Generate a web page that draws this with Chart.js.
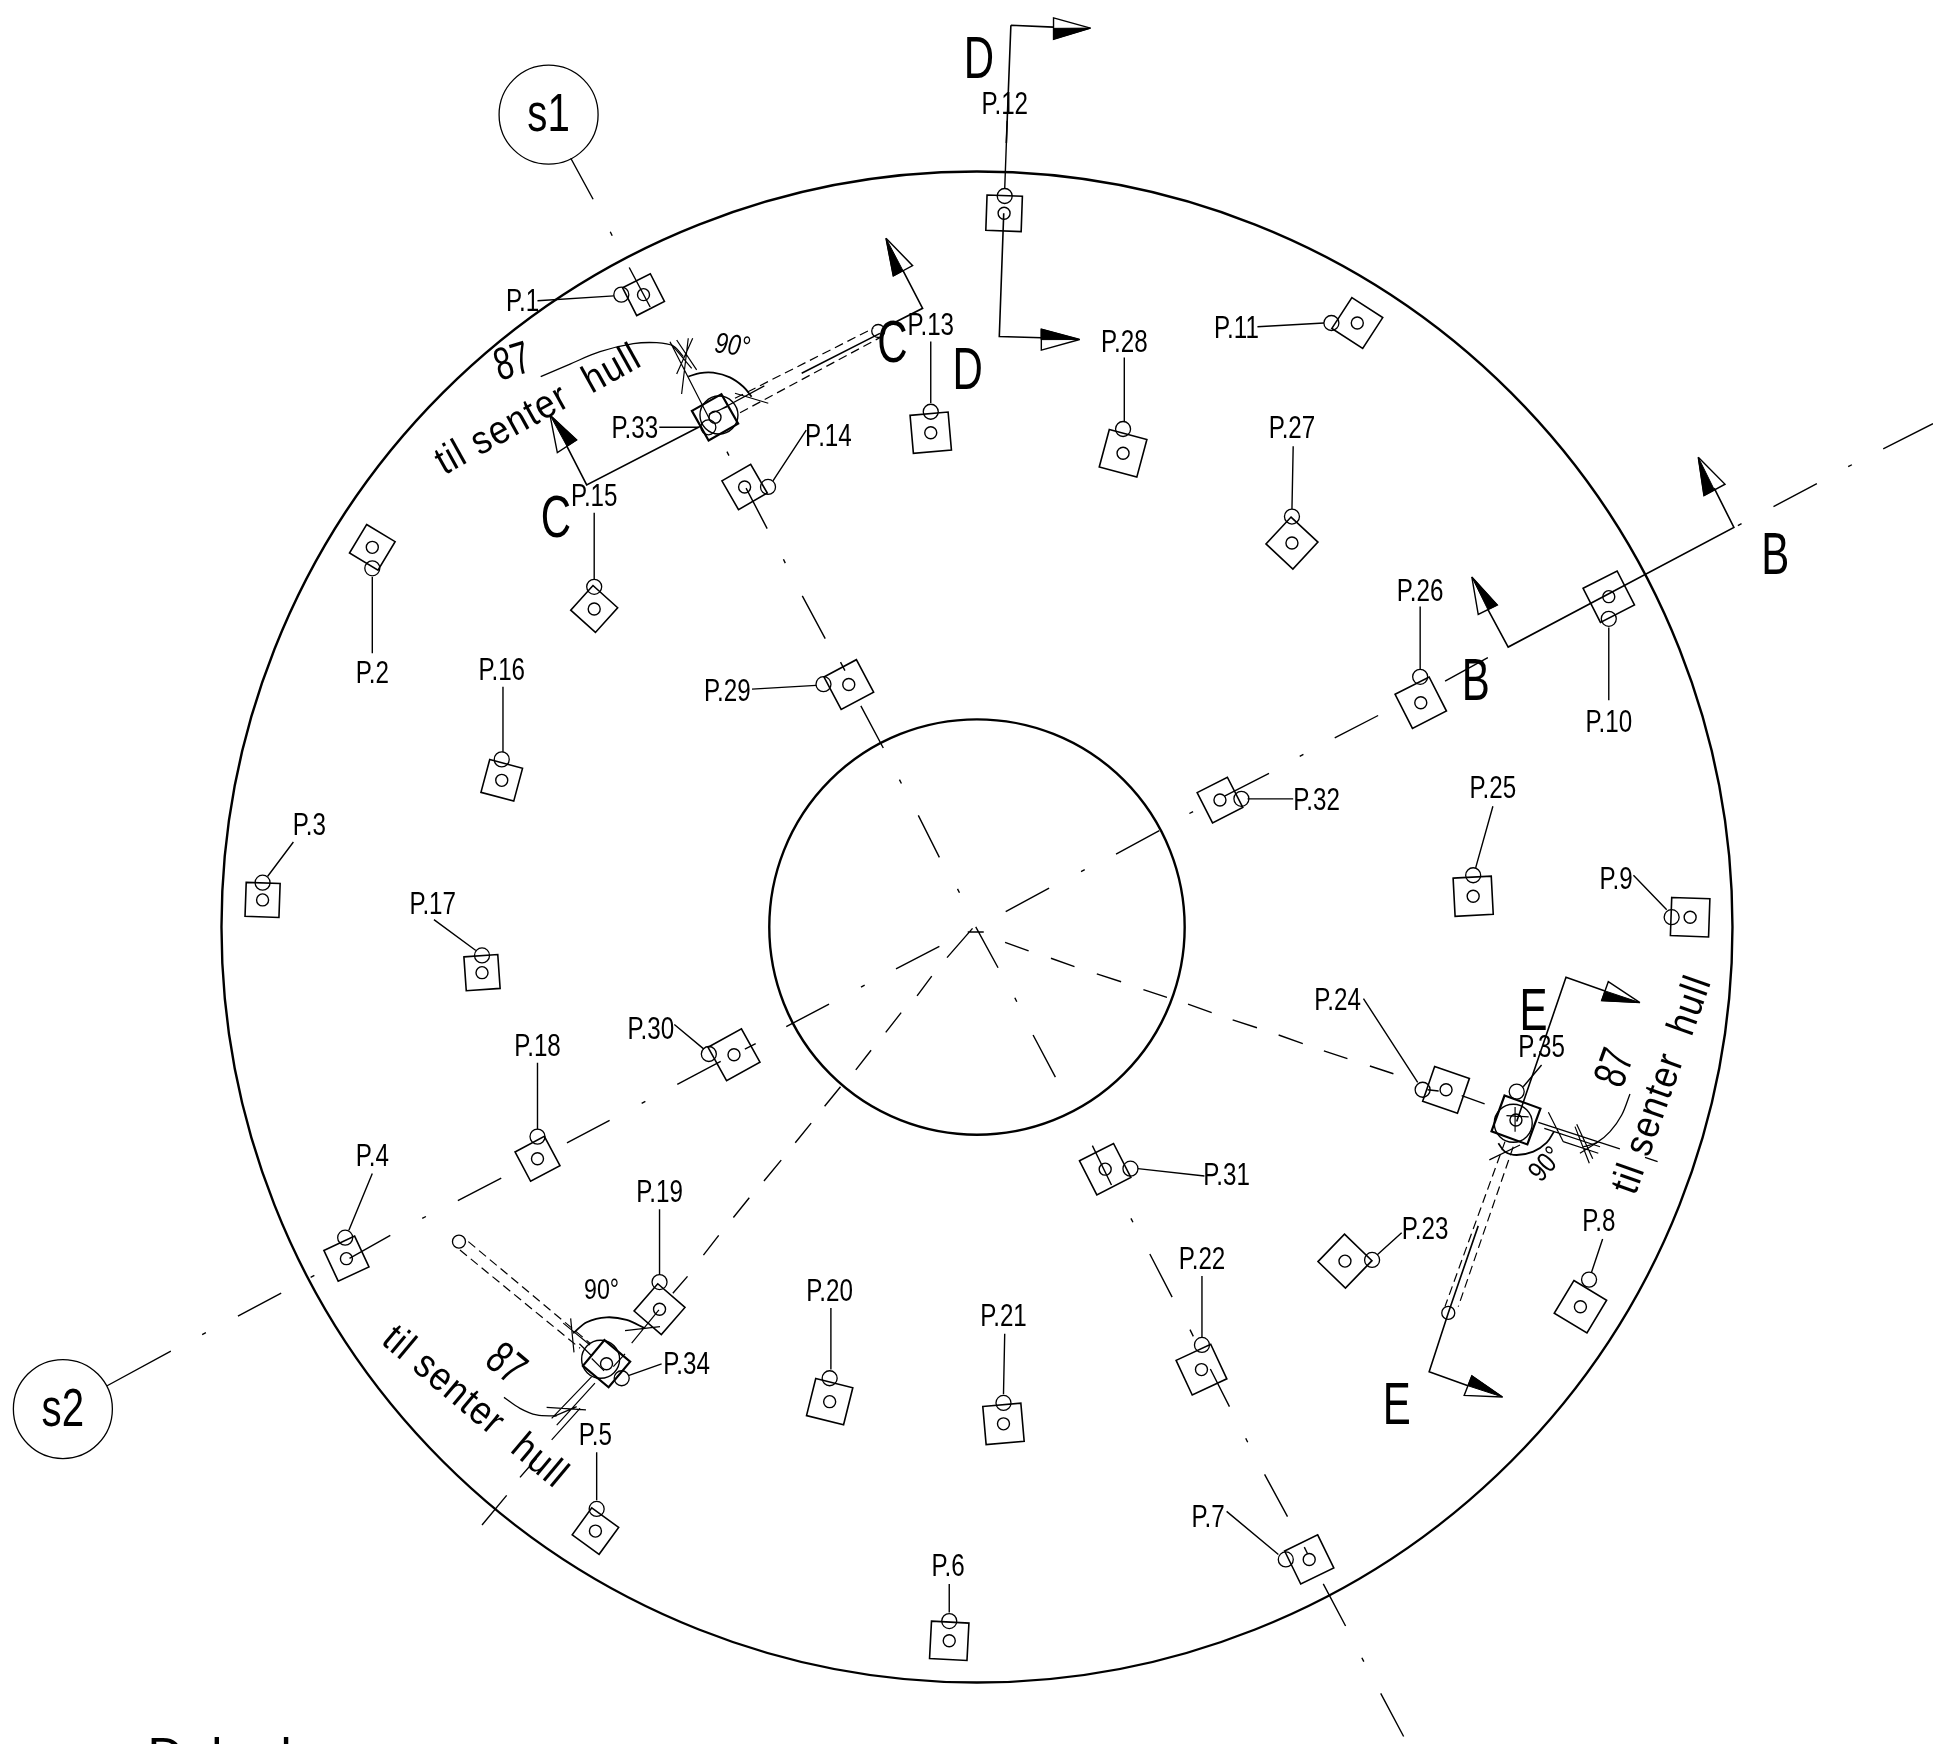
<!DOCTYPE html>
<html><head><meta charset="utf-8">
<style>html,body{margin:0;padding:0;background:#fff}canvas{display:block}</style>
<script src="https://cdn.jsdelivr.net/npm/chart.js@4"></script>
</head><body><canvas id="c" width="1933" height="1744"></canvas>
<script>
const plateLabels=["P.1","P.2","P.3","P.4","P.5","P.6","P.7","P.8","P.9","P.10","P.11","P.12","P.13","P.14","P.15","P.16","P.17","P.18","P.19","P.20","P.21","P.22","P.23","P.24","P.25","P.26","P.27","P.28","P.29","P.30","P.31","P.32","P.33","P.34","P.35"];
const plateX=[522,302,213,281,483,770,1062,1282,1371,1305,1101,814.5,755,604,482,407,391,436,535,673,814,974.6,1091,1173,1195,1152.5,1048,911,688.5,595.4,896.5,989.6,580,492,1229.7];
const plateY=[239,444,730,1021,1242,1331,1265,1060,744,484,262,173,351,395,494,633,789,940,1062,1137,1155,1111,1023,884,727,570,440.5,367.7,555.3,855.6,948.4,649,338.5,1106.2,908.5];
const plateAngle=[-27,31,2,-25,36,3,-26,31,2,-27,33,2,-5,-30,42,15,-4,-28,41,14,-5,-25,44,19,-3,-27,43,15,-28,-29,-27,-27,-29.5,40,20];
const plateRadius=[22,23.5,24,24,23.5,26.5,26,27,27,27,26,25,27,23.5,23.5,24,24,23.5,25.5,27,27,27,27,26,27,27,26,27.5,26,27,27,24,24,23.7,27];
const leaderX=[504,302,213,280,484,770,1043,1289,1356,1305,1080,815,755,623,482,407,391,436,535,673,814,975,1113,1154,1195,1152,1048,911,668,575,917,1007,574.6,504.3,1230.3];
const leaderY=[239,461,716,1004,1224,1315,1265,1038,744,502,262,159,334,395,476,616,775,922,1040,1118,1138,1091,1022,884,710,549,419,348,555,855,948,648,346.6,1118,885.5];
const labelX=[424,302,251,302,483,769,980,1297,1311,1305,1003,815,755,672,482,407,351,436,535,673,814,975,1156,1085,1211,1152,1048,912,590,528,995,1068,515,557,1250.5];
const labelY=[245.5,547.5,670.5,938.5,1165.5,1271.5,1231.5,991.5,714.5,586.5,267.5,85.5,264.5,354.5,403.5,544.5,734.5,849.5,968.5,1048.5,1068.5,1022.5,998.5,812.5,640.5,480.5,348.5,278.5,561.5,835.5,954.5,650.5,348,1107.9,850.5];
const leaderLines=[[436,244,498,240],[302,468,302,530],[238,683,217,711],[302,952,283,998],[484,1178,484,1217],[770,1285,770,1308],[995,1226,1037,1261],[1300,1005,1291,1032],[1325,710,1352,738],[1305,509,1305,568],[1020,265,1074,262],[817,98,815,153],[755,277,755,327],[654,349,627,390],[482,416,482,470],[408,557,408,610],[352,746,386,771],[436,862,436,916],[535,981,535,1034],[674,1061,674,1111],[815,1082,814,1131],[975,1035,975,1085],[1137,1000,1117,1018],[1106,810,1150,878],[1211,654,1197,704],[1152,492,1152,543],[1049,362,1048,413],[912,290,912,342],[610,559,662,556],[547,831,571,851],[923,948,977,954],[1012,648,1049,648],[534.8,346.6,566.4,346.6],[509.7,1115.9,536.7,1106.4],[1235.6,881.5,1250.5,863.9]];
const centerLines=[
[463,128.4,481.1,161.6],[495,188,496.6,191.2],[510.4,217,527.4,249],[589.7,366.4,591.3,369.6],[605.2,396,622.3,428.8],[635.5,453.6,637,456.8],[650.8,483.4,669.4,518],[681.8,537.1,685.4,544],[698.3,572.6,716.5,606.8],[729.6,632.4,731.2,635.6],[744.9,661.4,762,695.5],[776.7,721,778.3,724.2],
[791.5,751.8,809.6,785],[823.2,809.4,824.8,812.6],[838,839.6,856.1,873.8],[886.1,929.3,901.6,961.2],[917.4,988.3,919,991.5],[932.7,1017.2,950.8,1052.2],[965.3,1078.6,968,1084],[981.8,1110.5,997.3,1141],[1010.5,1166.7,1012.1,1169.9],[1025.8,1196,1044.4,1230.2],[1058,1255,1060.5,1260],[1073.4,1284.8,1091.5,1319],[1104.7,1344.7,1106.3,1347.9],[1120,1373.6,1138.6,1408.6],
[86.9,1124.1,138.6,1096],[164,1082.6,167,1081],[193,1067.7,228.1,1049],[252,1036.2,255,1034.6],[283.5,1020.8,316.6,1002.1],[342.5,988.4,345.5,986.8],[371.4,973.9,406.6,955.7],[459.9,927,494.5,908.8],[520.5,895.1,523.5,893.5],[549.4,879.7,584.6,861],[604.2,851,613,846.5],[637.8,832.8,672.5,814.6],[698.4,800.8,701.4,799.2],[726.8,785.9,762,767.7],
[815.8,739.5,851,720.4],[876.9,707.1,879.9,705.5],[905.3,692.8,940.4,673.7],[964.8,659.9,967.8,658.3],[993.7,645.5,1029.4,627.3],[1054.3,613.5,1057.3,611.9],[1082.7,598.6,1117.9,580.4],[1172.2,552.5,1206.9,533.5],[1409.7,426.4,1412.7,424.8],[1438.6,411,1473.8,392.4],[1499.2,378.6,1502.2,377],[1527.6,364.2,1568,343.7],
[1185.7,888.7,1204.3,895.5],[1158,884,1167,885],
[815.3,764.5,834.4,771.4],[852.5,777.3,871.6,784.1],[889.7,790,909.4,796.4],[927.5,802.8,946.6,809.1],[963.7,814.6,982.9,821.4],[999.9,827.3,1019.6,833.7],[1037.2,839.6,1056.8,846.5],[1073.9,852.4,1093,858.8],[1111.2,864.7,1130.3,871],
[545.8,1049,557.7,1035.4],[570.6,1018.1,583,1002.1],[594.9,987.6,607.8,971.6],[619.7,958,633.7,941.1],[645.1,927,658,911.1],[668.9,897.4,681.8,881.5],[694.2,867.9,706.6,851.9],[718.5,837.4,731,821.4],[743.9,807.8,755.8,791.8],[768.2,776.8,788.9,753.1],
[785,756,798,756],
[391,1237,411,1213],[421.8,1198.4,435.3,1182.9],[1334.4,938.8,1344.6,942.3]];
const sectionLines=[
[820,20.5,816.3,116],[820,20.5,854.6,22],[814.2,173,810.6,273,845,274],
[1390.5,396,1406.5,427.9,1223.4,524.9,1206.9,494.4],
[732.5,219.6,748.4,250.1,716.5,266.3],[650.3,302.8,713.8,270.4],[459.9,362,475.9,393.4,567.8,346],
[1301.9,803.8,1270.3,792.8,1230.3,909.8],[1199.1,994.4,1174.8,1065,1159.3,1112.8,1190.8,1124.1]];
const constructionLines=[
[575.9,340.7,543.5,277.2],[548.9,275.8,565.1,300.1],[543.5,278,561.1,298.8],[561.9,274.4,548.9,303.4],[558.3,274.4,552.9,319.6],[596.2,319,623.2,327.1],[583,333,620,313],
[1208.1,940.9,1233,928.8],[1247.8,910.4,1314,932],[1252.7,915.3,1297.9,930.2],[1268.1,926.1,1296.5,935.5],[1256,902.3,1268.1,926.1],[1277.6,913.9,1289.2,943.6],[1296.5,926.1,1281.6,935.5],[1279,912,1292,940],
[534.5,1062.6,512.4,1089.6],[507,1098.3,497.5,1108.6],[507,1079.4,535.4,1076.1],[456.9,1073.3,478.6,1091],[462.9,1069.4,465.6,1097],[480,1116.7,447.5,1150.5],[482.6,1122,451.6,1156],[470.5,1142.4,447.5,1168],[443.4,1141.6,475.3,1143.7],[448.8,1149.1,467.8,1141],
[1222,905,1240,906],[1229,898,1229,918],[575,336,590,330],[480,1102,490,1112],[470,1090,480,1100]];
const hiddenEdgeLines=[
[596.2,323.1,708.4,266.3],[600.3,334.8,715.2,273.1],
[1220.8,926.1,1172.1,1059.9],[1227.5,930.2,1182.9,1059.9],
[379.9,1007.2,478.6,1089.6],[373.1,1014,470.5,1093.7]];
const arcs90=[
[558.3,305.5,567.8,302.6,578.6,302.3,592.1,306.1,603,313.7,609.7,321.8],
[1260.5,918,1254.6,926.9,1243.8,934.2,1230.3,936.9,1220.8,934.2,1215.4,927.4],
[465,1081.5,475.9,1072.6,492.1,1068.6,508.3,1070.7,523.2,1077.5]];
const arcs87=[
[438.6,305.5,462.4,295.3,486.7,285.3,513.7,278.8,532.7,278,546.2,280.7,554.3,289.3],
[1322.2,887.4,1315.5,904.5,1306,918,1295.2,926.9,1284.3,930.2],
[408.8,1133.5,421.8,1142.4,435.3,1147.8,451.6,1148.6]];
const arrowOutlines=[
[884.6,22.8,854.6,14.5,854.6,31.8],[875.8,275.4,844.7,267,844.7,284],
[1377.6,371,1399.3,392.8,1382.2,402],[1193.9,468,1214.6,490.7,1199.1,498.4],
[718.7,193.3,740.3,215.5,724.6,223.9],[446.1,336.6,467.8,356.9,452.1,367.2],
[1330.3,813.3,1304.6,796.3,1299.2,811.7],[1218.8,1133.2,1193.9,1116,1187.7,1131.9]];
const arrowFills=[
[884.6,22.8,854.6,23,854.6,31.8],[875.8,275.4,844.7,267,844.7,275.5],
[1377.6,371,1390.7,397.5,1382.2,402],[1193.9,468,1214.6,490.7,1206.9,494.4],
[718.7,193.3,732.5,219.6,724.6,223.9],[446.1,336.6,467.8,356.9,459.9,362],
[1330.3,813.3,1301.9,803.8,1299.2,811.7],[1218.8,1133.2,1193.9,1116,1190.8,1124.1]];
const discX=[792.5,792.5], discY=[752,752], discRadius=[755.5,207.7];
const bubbleX=[445,51], bubbleY=[94.5,1144.5], bubbleText=["s1","s2"];
const bigCircleX=[583.2,487.2,1227.5], bigCircleY=[336.7,1102.6,911.2];
const endHoleX=[712.4,372.3,1174.8], endHoleY=[268.5,1007.2,1065];
const sectionLetters=["D","D","C","C","B","B","E","E"];
const sectionLetterX=[794,785,451,724,1440,1197,1244,1133];
const sectionLetterY=[50,302,422,280,452,554,822,1142];
const noteText=["87","til senter  hull","90°","87","til senter  hull","90°","87","til senter  hull","90°"];
const noteX=[416,437,594,1311,1349,1254.6,409.6,385,488];
const noteY=[295,333,281,866.6,880,945,1107.2,1142,1047];
const noteAngle=[-17,-29,8,-70,-70.5,-48,40,40,0];
const noteSize=[46,40,29,46,40,29,46,40,29];
const noteStretch=[0.7,0.88,0.8,0.7,0.88,0.8,0.7,0.88,0.8];
const noteSpacing=[0,1.5,0,0,1.5,0,0,1.5,0];
const noteSlant=[0,0,1,0,0,0,0,0,0];
const cutOffText=["Del","l"], cutOffX=[150,232], cutOffY=[1427,1427];

const pts=(xs,ys)=>xs.map((x,i)=>({x,y:ys[i]}));
const poly=a=>{const o=[];for(let i=0;i<a.length;i+=2)o.push({x:a[i],y:a[i+1]});return o;};
const multi=l=>{const o=[];l.forEach((a,i)=>{if(i)o.push({x:NaN,y:NaN});o.push(...poly(a));});return o;};
const line=(data,w,extra)=>Object.assign({data,showLine:true,borderColor:'#000',borderWidth:w,pointRadius:0,fill:false,spanGaps:false,clip:false,borderCapStyle:'butt'},extra||{});
const dots=(data,r,w,extra)=>Object.assign({data,showLine:false,pointStyle:'circle',pointRadius:r,pointBorderColor:'#000',pointBorderWidth:w,pointBackgroundColor:'rgba(0,0,0,0)',clip:false},extra||{});
const TXT='"Liberation Sans",sans-serif';
const textPlugin={id:'drawingText',afterDatasetsDraw(ch){
  const {ctx,scales:{x:sx,y:sy}}=ch;
  const put=(t,x,y,size,ang,hs,spacing,slant)=>{ctx.save();ctx.translate(sx.getPixelForValue(x),sy.getPixelForValue(y));ctx.rotate((ang||0)*Math.PI/180);ctx.scale(hs,1);ctx.font=(slant?'italic ':'')+size+'px '+TXT;ctx.letterSpacing=(spacing||0)+'px';ctx.fillStyle='#000';ctx.textAlign='center';ctx.textBaseline='middle';ctx.fillText(t,0,0);ctx.restore();};
  plateLabels.forEach((t,i)=>put(t,labelX[i],labelY[i],31,0,0.78));
  bubbleText.forEach((t,i)=>put(t,bubbleX[i],bubbleY[i],53,0,0.76));
  sectionLetters.forEach((t,i)=>put(t,sectionLetterX[i],sectionLetterY[i],60,0,0.7));
  noteText.forEach((t,i)=>put(t,noteX[i],noteY[i],noteSize[i],noteAngle[i],noteStretch[i],noteSpacing[i],noteSlant[i]));
  cutOffText.forEach((t,i)=>put(t,cutOffX[i],cutOffY[i],50,0,1));
}};
new Chart(document.getElementById('c'),{type:'scatter',
 data:{datasets:[
  dots(pts(discX,discY),discRadius,2.4),
  line(multi(centerLines),1.4),
  line(multi(leaderLines),1.4),
  line(multi(sectionLines),1.6),
  line(multi(constructionLines),1.2),
  line(multi(hiddenEdgeLines),1.2,{borderDash:[9,5]}),
  ...arcs90.map(a=>line(poly(a),1.8,{tension:0.35})),
  ...arcs87.map(a=>line(poly(a),1.3,{tension:0.35})),
  line(multi(arrowOutlines.map(a=>a.concat(a.slice(0,2)))),1.4),
  ...arrowFills.map(a=>line(poly(a.concat(a.slice(0,2))),1,{fill:'shape',backgroundColor:'#000'})),
  dots(pts(plateX,plateY),plateRadius,plateX.map((_,i)=>i>=32?2.2:1.6),{pointStyle:'rect',pointRotation:plateAngle}),
  dots(pts(plateX,plateY),6,1.4),
  dots(pts(leaderX,leaderY),7.5,1.3),
  dots(pts(bigCircleX,bigCircleY),19,1.4),
  dots(pts(endHoleX,endHoleY),6.5,1.3),
  dots(pts(bubbleX,bubbleY.map((y,i)=>[93,1143][i])),49.5,1.3)
 ]},
 options:{responsive:false,devicePixelRatio:1,animation:false,events:[],layout:{padding:0,autoPadding:false},
  plugins:{legend:{display:false},tooltip:{enabled:false},title:{display:false}},
  scales:{x:{type:'linear',display:false,min:0,max:1568},y:{type:'linear',display:false,min:0,max:1414.7,reverse:true}}},
 plugins:[textPlugin]});
</script></body></html>
